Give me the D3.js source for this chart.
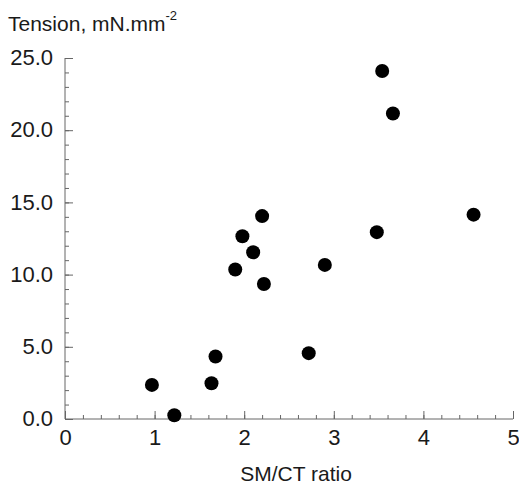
<!DOCTYPE html>
<html>
<head>
<meta charset="utf-8">
<script src="https://cdn.jsdelivr.net/npm/d3@7"></script>
<style>
  body { margin: 0; background: #fff; }
  text { font-family: "Liberation Sans", Arial, sans-serif; fill: #1a1a1a; }
</style>
</head>
<body>
<div id="chart"></div>
<script>
// SM/CT ratio vs tension
var ratio   = [0.97, 1.22, 1.635, 1.68, 1.90, 1.98, 2.10, 2.20, 2.22, 2.72, 2.90, 3.48, 3.54, 3.66, 4.56];
var tension = [2.36, 0.26, 2.48, 4.33, 10.35, 12.66, 11.55, 14.05, 9.35, 4.56, 10.67, 12.94, 24.1, 21.16, 14.15];
var xTicks = [0, 1, 2, 3, 4, 5];
var yTicks = [0, 5, 10, 15, 20, 25];

(function () {
  var width = 519, height = 488;
  var margin = { top: 58, left: 65 };

  var svg = d3.select('#chart')
    .append('svg')
    .attr('width', width)
    .attr('height', height);

  var x = d3.scaleLinear()
    .domain([0, 5])
    .range([margin.left, 513]);

  var y = d3.scaleLinear()
    .domain([0, 25])
    .range([419, margin.top]);

  var axisColor = '#666';

  // x axis (ticks pointing inward)
  var gx = svg.append('g')
    .attr('transform', 'translate(0,' + y(0) + ')');
  gx.call(d3.axisBottom(x).tickValues(d3.range(0, 5.01, 0.2)).tickSize(-4).tickFormat(''));
  gx.selectAll('.tick line').attr('stroke', axisColor);
  gx.select('.domain').attr('stroke', axisColor).attr('d', 'M' + x(0) + ',0H' + x(5));

  var gxMajor = svg.append('g')
    .attr('transform', 'translate(0,' + y(0) + ')')
    .call(d3.axisBottom(x).tickValues(xTicks).tickSize(-8).tickFormat(d3.format('d')));
  gxMajor.select('.domain').remove();
  gxMajor.selectAll('.tick line').attr('stroke', axisColor);
  gxMajor.selectAll('.tick text')
    .attr('font-size', 22)
    .attr('dy', '0.71em')
    .attr('y', 10);

  // y axis
  var gy = svg.append('g')
    .attr('transform', 'translate(' + x(0) + ',0)');
  gy.call(d3.axisLeft(y).tickValues(d3.range(0, 25.01, 1)).tickSize(-4).tickFormat(''));
  gy.selectAll('.tick line').attr('stroke', axisColor);
  gy.select('.domain').attr('stroke', axisColor).attr('d', 'M0,' + y(0) + 'V' + y(25));

  var gyMajor = svg.append('g')
    .attr('transform', 'translate(' + x(0) + ',0)')
    .call(d3.axisLeft(y).tickValues(yTicks).tickSize(-8).tickFormat(d3.format('.1f')));
  gyMajor.select('.domain').remove();
  gyMajor.selectAll('.tick line').attr('stroke', axisColor);
  gyMajor.selectAll('.tick text')
    .attr('font-size', 22)
    .attr('x', -12)
    .attr('dy', '0.3em');

  // points
  svg.append('g')
    .selectAll('circle')
    .data(ratio.map(function (r, i) { return { r: r, t: tension[i] }; }))
    .enter().append('circle')
    .attr('cx', function (d) { return x(d.r); })
    .attr('cy', function (d) { return y(d.t); })
    .attr('r', 7)
    .attr('fill', '#000');

  // titles
  var yt = svg.append('text')
    .attr('x', 8)
    .attr('y', 31)
    .attr('font-size', 21)
    .text('Tension, mN.mm');
  yt.append('tspan')
    .attr('dy', -11)
    .attr('font-size', 13)
    .text('-2');

  svg.append('text')
    .attr('x', 296)
    .attr('y', 481)
    .attr('text-anchor', 'middle')
    .attr('font-size', 21)
    .text('SM/CT ratio');
})();
</script>
</body>
</html>
